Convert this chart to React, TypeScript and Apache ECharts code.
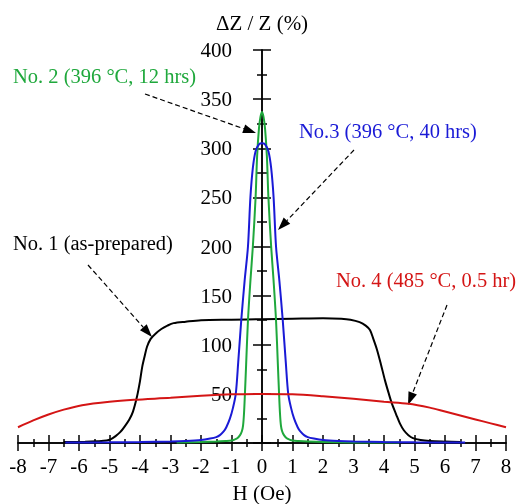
import React, { useEffect, useRef } from 'react';
import * as echarts from 'echarts';

const FONT = "'Liberation Serif', 'Times New Roman', serif";

const xMin = -8;
const xMax = 8;
const yMin = 0;
const yMax = 400;

const xAxisTitle = 'H (Oe)';
const yAxisTitle = 'ΔZ / Z (%)';

const seriesNames = ['No. 1 (as-prepared)', 'No. 2 (396 °C, 12 hrs)', 'No.3 (396 °C, 40 hrs)', 'No. 4 (485 °C, 0.5 hr)'];
const seriesColors = ['#000000', '#1fa83c', '#1a1ad6', '#d41515'];

// No. 1 (as-prepared) — black
const no1: [number, number][] = [
  [-6.5, 1], [-5.8, 1.3], [-5.4, 1.8], [-5.1, 2.5], [-4.95, 4], [-4.8, 7], [-4.65, 11], [-4.5, 17],
  [-4.35, 24], [-4.23, 32], [-4.1, 47], [-4.0, 63], [-3.93, 77], [-3.85, 88], [-3.77, 98], [-3.65, 106],
  [-3.5, 111], [-3.3, 116], [-3.1, 119.5], [-2.9, 122], [-2.5, 123.5], [-2.0, 125], [-1.0, 125.5],
  [0, 126], [1.0, 126.5], [2.0, 127], [2.6, 126.5], [2.9, 125.5], [3.2, 123], [3.4, 119.5], [3.54, 115],
  [3.65, 106], [3.77, 95], [3.9, 80], [4.03, 64], [4.15, 51], [4.26, 40], [4.4, 29], [4.52, 20],
  [4.65, 13], [4.8, 8], [4.95, 5], [5.2, 3], [5.5, 2], [6.0, 1.4], [6.5, 1],
];

// No. 2 (396 °C, 12 hrs) — green
const no2: [number, number][] = [
  [-2.8, 0.5], [-2.0, 1], [-1.5, 1.5], [-1.2, 2], [-1.0, 2.5], [-0.9, 3.5], [-0.8, 5], [-0.72, 8],
  [-0.66, 12], [-0.62, 18], [-0.59, 30], [-0.56, 50], [-0.52, 80], [-0.46, 125], [-0.38, 165],
  [-0.3, 200], [-0.21, 250], [-0.16, 292], [-0.1, 320], [-0.05, 332], [0, 337],
  [0.05, 332], [0.1, 320], [0.16, 292], [0.21, 250], [0.3, 200], [0.38, 165], [0.46, 125],
  [0.52, 80], [0.56, 50], [0.59, 30], [0.62, 18], [0.66, 12], [0.72, 8], [0.8, 5], [0.9, 3.5],
  [1.0, 2.5], [1.2, 2], [1.5, 1.5], [2.0, 1], [3.0, 0.6], [4.5, 0.5],
];

// No.3 (396 °C, 40 hrs) — blue
const no3: [number, number][] = [
  [-6.45, 0.5], [-5.0, 0.7], [-4.0, 1], [-3.0, 1.5], [-2.5, 2], [-2.0, 3], [-1.7, 4.5], [-1.5, 6],
  [-1.38, 8], [-1.25, 12], [-1.17, 16], [-1.05, 25], [-0.95, 36], [-0.86, 50], [-0.78, 82],
  [-0.68, 125], [-0.57, 165], [-0.46, 200], [-0.38, 250], [-0.3, 280], [-0.21, 297], [-0.1, 304],
  [0, 305], [0.1, 304], [0.21, 297], [0.3, 280], [0.38, 250], [0.46, 200], [0.57, 165], [0.68, 125],
  [0.78, 82], [0.86, 50], [0.95, 36], [1.05, 25], [1.17, 16], [1.25, 12], [1.38, 8], [1.5, 6],
  [1.7, 4.5], [2.0, 3], [2.5, 2], [3.0, 1.5], [4.0, 1], [5.0, 0.7], [6.66, 0.5],
];

// No. 4 (485 °C, 0.5 hr) — red
const no4: [number, number][] = [
  [-8, 16], [-7.5, 23], [-7.0, 29], [-6.5, 34], [-5.9, 38.5], [-5.0, 42], [-4.2, 44],
  [-3.0, 46], [-2.0, 48], [-1.0, 49.5], [0, 50], [1.0, 49.5], [2.0, 47.5], [3.0, 45], [4.0, 42],
  [4.8, 40], [5.5, 36], [6.0, 32], [6.5, 28], [7.0, 24], [7.5, 20], [8, 16],
];

const seriesData = [no1, no2, no3, no4];

// annotation labels: [text index, left x, center y]
const labelPos: [number, number, number][] = [
  [1, 13, 76],
  [2, 299, 131],
  [0, 13, 243],
  [3, 336, 280],
];
// arrows: from (x1,y1) to tip (x2,y2)
const arrows: [number, number, number, number][] = [
  [145, 94, 256, 133],
  [354, 150, 278, 230],
  [88, 265, 152, 337],
  [447, 305, 408, 405],
];

function arrowGraphic(a: [number, number, number, number]) {
  const [x1, y1, x2, y2] = a;
  const dx = x2 - x1;
  const dy = y2 - y1;
  const len = Math.sqrt(dx * dx + dy * dy);
  const ux = dx / len;
  const uy = dy / len;
  const L = 13;
  const W = 4.5;
  const bx = x2 - ux * L;
  const by = y2 - uy * L;
  const nx = -uy;
  const ny = ux;
  return [
    {
      type: 'line',
      shape: { x1, y1, x2: bx, y2: by },
      style: { stroke: '#000', lineWidth: 1.2, lineDash: [5, 3] },
    },
    {
      type: 'polygon',
      shape: {
        points: [
          [x2, y2],
          [bx + nx * W, by + ny * W],
          [bx - nx * W, by - ny * W],
        ],
      },
      style: { fill: '#000' },
    },
  ];
}

const GRID_LEFT = 18;
const GRID_RIGHT = 14;
const CHART_W = 520;

export default function App() {
  const ref = useRef<HTMLDivElement>(null);
  useEffect(() => {
    const chart = echarts.init(ref.current!, null, { renderer: 'svg' });
    const axisLineStyle = { color: '#000', width: 1.5 };
    const labelStyle = { color: '#000', fontSize: 21, fontFamily: FONT };
    // y axis sits at x = 0 (middle of the symmetric x range)
    const yAxisOffset = -((CHART_W - GRID_LEFT - GRID_RIGHT) * (0 - xMin)) / (xMax - xMin);
    const graphics: any[] = [];
    labelPos.forEach(([i, x, y]) => {
      graphics.push({
        type: 'text',
        x,
        y,
        style: {
          text: seriesNames[i],
          fill: seriesColors[i],
          font: `20.5px ${FONT}`,
          textAlign: 'left',
          textVerticalAlign: 'middle',
          verticalAlign: 'middle',
        },
      });
    });
    arrows.forEach((a) => graphics.push(...arrowGraphic(a)));

    const yBase = {
      type: 'value',
      min: yMin,
      max: yMax,
      interval: 50,
      position: 'left',
      offset: yAxisOffset,
      splitLine: { show: false },
    };
    const xBase = {
      type: 'value',
      min: xMin,
      max: xMax,
      interval: 1,
      position: 'bottom',
      splitLine: { show: false },
    };

    chart.setOption({
      animation: false,
      textStyle: { fontFamily: FONT },
      grid: { left: GRID_LEFT, right: GRID_RIGHT, top: 50, bottom: 61, containLabel: false, outerBoundsMode: 'none' },
      xAxis: [
        {
          ...xBase,
          name: xAxisTitle,
          nameLocation: 'middle',
          nameGap: 39,
          nameTextStyle: { ...labelStyle },
          axisLine: { show: true, onZero: false, lineStyle: axisLineStyle },
          axisTick: { show: true, inside: false, length: 8, lineStyle: axisLineStyle },
          minorTick: { show: true, splitNumber: 2, length: 4, lineStyle: axisLineStyle },
          axisLabel: { ...labelStyle, margin: 12 },
        },
        {
          ...xBase,
          axisLine: { show: true, onZero: false, lineStyle: axisLineStyle },
          axisTick: { show: true, inside: true, length: 8, lineStyle: axisLineStyle },
          minorTick: { show: true, splitNumber: 2, length: 4, lineStyle: axisLineStyle },
          axisLabel: { show: false },
        },
      ],
      yAxis: [
        {
          ...yBase,
          name: yAxisTitle,
          nameLocation: 'end',
          nameGap: 17,
          nameTextStyle: { ...labelStyle },
          axisLine: { show: true, onZero: false, lineStyle: axisLineStyle },
          axisTick: { show: true, inside: false, length: 9, lineStyle: axisLineStyle },
          minorTick: { show: true, splitNumber: 2, length: 5, lineStyle: axisLineStyle },
          axisLabel: {
            ...labelStyle,
            margin: 30,
            formatter: (v: number) => (v === 0 ? '' : String(v)),
          },
        },
        {
          ...yBase,
          axisLine: { show: true, onZero: false, lineStyle: axisLineStyle },
          axisTick: { show: true, inside: true, length: 9, lineStyle: axisLineStyle },
          minorTick: { show: true, splitNumber: 2, length: 5, lineStyle: axisLineStyle },
          axisLabel: { show: false },
        },
      ],
      series: seriesData.map((d, i) => ({
        type: 'line',
        name: seriesNames[i],
        data: d,
        xAxisIndex: 0,
        yAxisIndex: 0,
        showSymbol: false,
        smooth: 0.3,
        lineStyle: { color: seriesColors[i], width: 2 },
        itemStyle: { color: seriesColors[i] },
        z: 3,
      })),
      graphic: graphics,
    });
    return () => chart.dispose();
  }, []);
  return <div ref={ref} style={{ position: 'fixed', left: 0, top: 0, width: 520, height: 504 }} />;
}
